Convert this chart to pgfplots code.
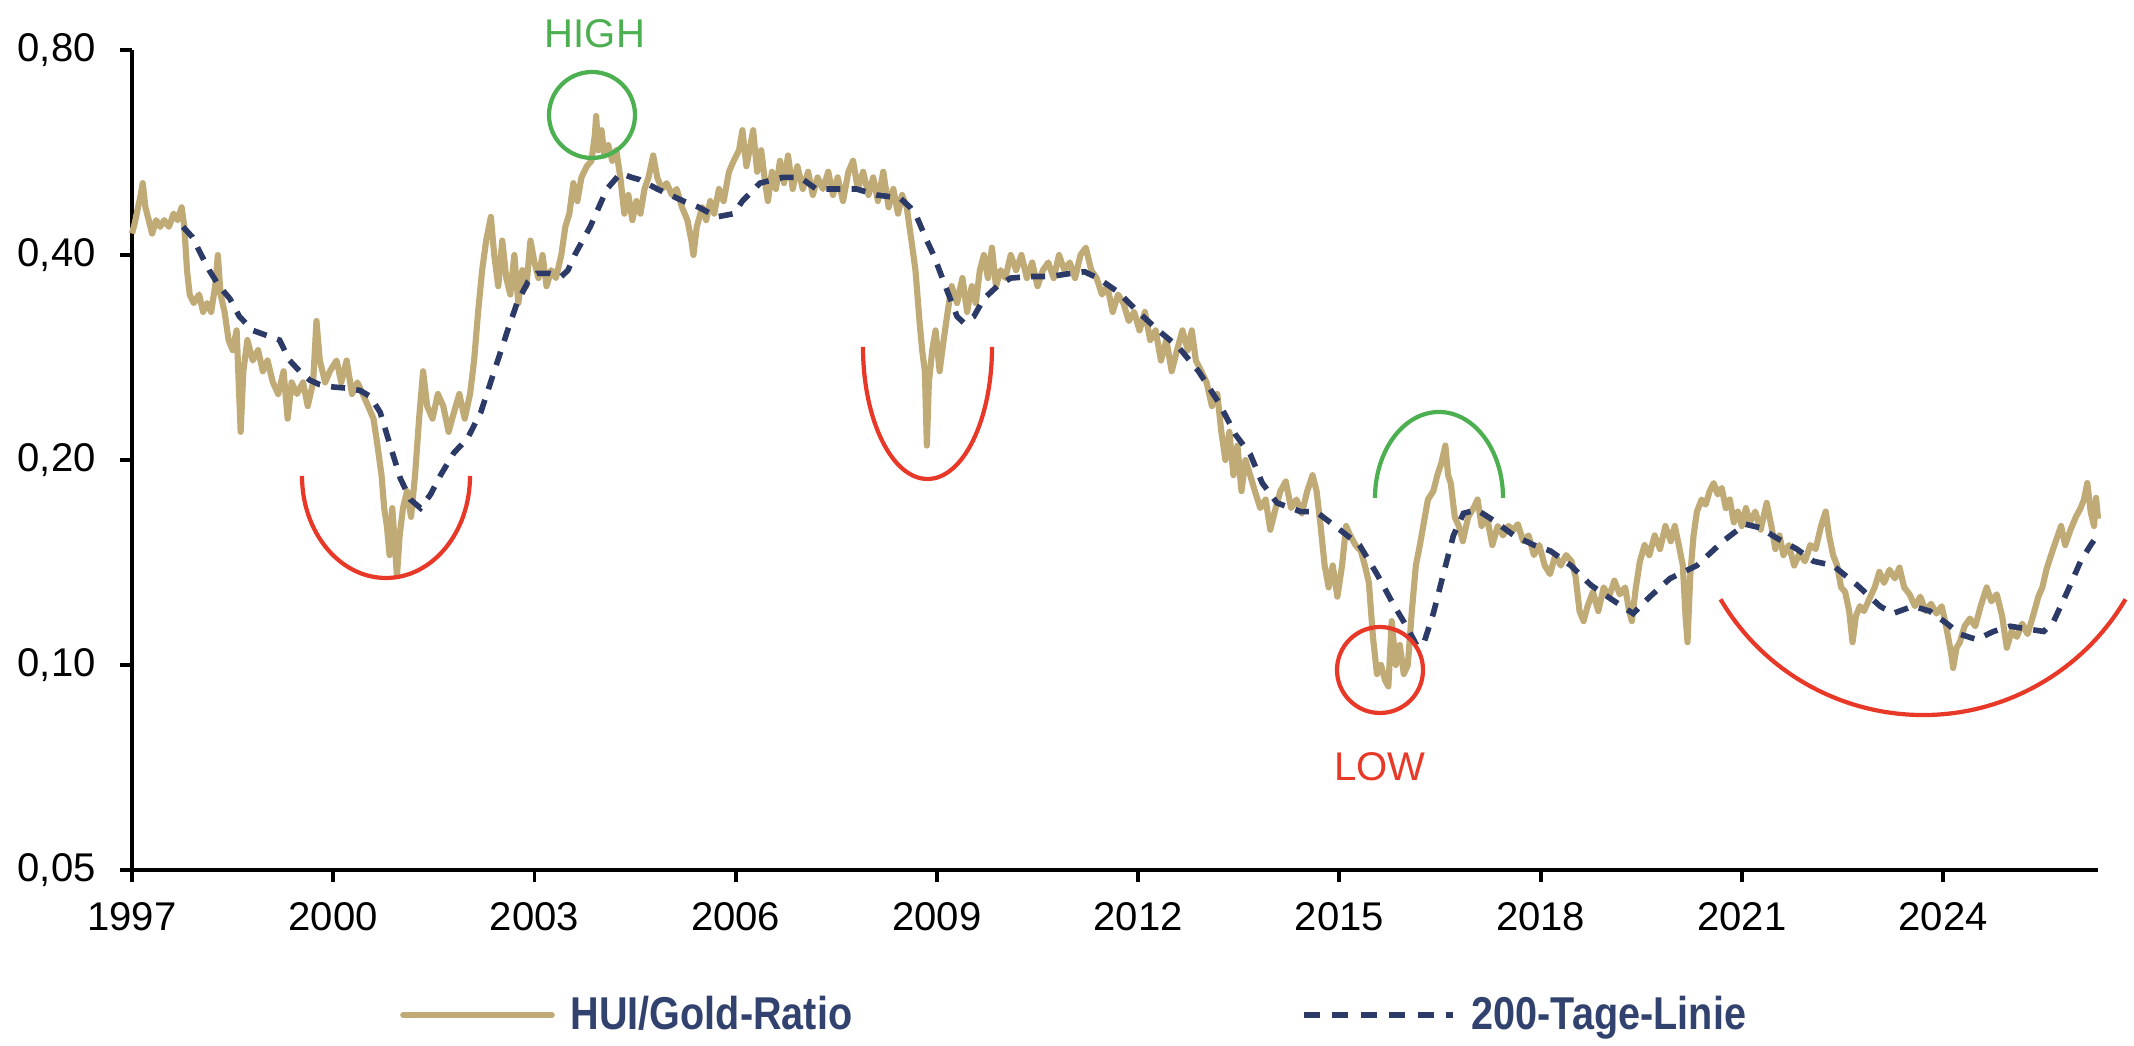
\documentclass[border=0pt]{standalone}
\usepackage{pgfplots}
\pgfplotsset{compat=1.18}
\usepackage{pgfplotstable}
\usepackage{graphicx}
\usepackage{fontspec}
\setmainfont{Liberation Sans}
\definecolor{goldline}{RGB}{192,170,118}
\definecolor{navyline}{RGB}{43,58,103}
\definecolor{legnavy}{RGB}{50,66,110}
\definecolor{annred}{RGB}{232,56,40}
\definecolor{anngreen}{RGB}{76,175,80}

\pgfplotstableread{
x y
1997.00 0.43
1997.04 0.445
1997.09 0.47
1997.13 0.49
1997.16 0.51
1997.20 0.47
1997.25 0.45
1997.30 0.43
1997.36 0.45
1997.42 0.44
1997.48 0.45
1997.55 0.44
1997.62 0.46
1997.68 0.45
1997.74 0.47
1997.78 0.44
1997.82 0.38
1997.86 0.35
1997.92 0.34
1998.00 0.35
1998.06 0.33
1998.12 0.34
1998.18 0.33
1998.24 0.36
1998.28 0.40
1998.32 0.35
1998.38 0.33
1998.44 0.30
1998.50 0.29
1998.56 0.31
1998.62 0.22
1998.66 0.27
1998.72 0.30
1998.80 0.28
1998.88 0.29
1998.95 0.27
1999.02 0.28
1999.10 0.26
1999.18 0.25
1999.26 0.27
1999.32 0.23
1999.38 0.26
1999.46 0.25
1999.55 0.26
1999.62 0.24
1999.70 0.26
1999.75 0.32
1999.80 0.28
1999.88 0.26
1999.95 0.27
2000.05 0.28
2000.12 0.26
2000.20 0.28
2000.28 0.25
2000.36 0.26
2000.44 0.25
2000.52 0.24
2000.60 0.23
2000.66 0.21
2000.72 0.19
2000.76 0.17
2000.80 0.16
2000.84 0.145
2000.88 0.17
2000.92 0.15
2000.95 0.135
2000.99 0.155
2001.04 0.17
2001.10 0.18
2001.16 0.165
2001.22 0.19
2001.28 0.23
2001.34 0.27
2001.40 0.24
2001.48 0.23
2001.56 0.25
2001.64 0.24
2001.72 0.22
2001.80 0.235
2001.88 0.25
2001.96 0.23
2002.04 0.25
2002.10 0.28
2002.16 0.33
2002.22 0.38
2002.28 0.42
2002.35 0.455
2002.40 0.40
2002.46 0.36
2002.52 0.42
2002.58 0.37
2002.64 0.35
2002.70 0.40
2002.76 0.34
2002.82 0.38
2002.88 0.36
2002.94 0.42
2003.00 0.39
2003.06 0.37
2003.12 0.40
2003.18 0.36
2003.25 0.38
2003.32 0.37
2003.40 0.40
2003.46 0.44
2003.52 0.46
2003.58 0.51
2003.64 0.48
2003.70 0.52
2003.78 0.54
2003.85 0.55
2003.90 0.60
2003.92 0.64
2003.95 0.57
2004.00 0.61
2004.04 0.56
2004.10 0.58
2004.16 0.55
2004.22 0.57
2004.28 0.52
2004.34 0.46
2004.40 0.49
2004.46 0.45
2004.52 0.48
2004.58 0.46
2004.64 0.50
2004.70 0.52
2004.77 0.56
2004.83 0.52
2004.90 0.50
2004.97 0.51
2005.05 0.49
2005.12 0.50
2005.20 0.47
2005.28 0.45
2005.34 0.42
2005.37 0.40
2005.42 0.44
2005.50 0.47
2005.56 0.45
2005.62 0.48
2005.68 0.46
2005.75 0.50
2005.82 0.48
2005.90 0.53
2005.97 0.55
2006.05 0.57
2006.10 0.61
2006.16 0.54
2006.22 0.58
2006.26 0.61
2006.32 0.53
2006.38 0.57
2006.44 0.51
2006.48 0.48
2006.54 0.53
2006.60 0.50
2006.66 0.55
2006.72 0.51
2006.78 0.56
2006.85 0.50
2006.92 0.54
2007.00 0.50
2007.08 0.53
2007.15 0.49
2007.22 0.52
2007.30 0.50
2007.38 0.53
2007.45 0.49
2007.52 0.52
2007.60 0.48
2007.68 0.53
2007.75 0.55
2007.82 0.50
2007.90 0.53
2007.98 0.49
2008.05 0.52
2008.12 0.48
2008.20 0.53
2008.28 0.47
2008.35 0.50
2008.42 0.46
2008.48 0.49
2008.55 0.47
2008.62 0.42
2008.68 0.38
2008.74 0.32
2008.78 0.29
2008.82 0.27
2008.85 0.21
2008.88 0.26
2008.93 0.29
2008.98 0.31
2009.04 0.27
2009.10 0.30
2009.16 0.33
2009.22 0.36
2009.30 0.34
2009.38 0.37
2009.45 0.33
2009.52 0.36
2009.58 0.34
2009.64 0.38
2009.70 0.40
2009.76 0.37
2009.82 0.41
2009.88 0.36
2009.95 0.38
2010.02 0.37
2010.10 0.40
2010.18 0.38
2010.26 0.40
2010.34 0.37
2010.42 0.39
2010.50 0.36
2010.58 0.38
2010.66 0.39
2010.74 0.37
2010.82 0.40
2010.90 0.38
2010.98 0.39
2011.06 0.37
2011.14 0.40
2011.22 0.41
2011.30 0.38
2011.38 0.37
2011.46 0.35
2011.54 0.36
2011.62 0.33
2011.70 0.35
2011.78 0.34
2011.86 0.32
2011.94 0.33
2012.02 0.31
2012.10 0.33
2012.18 0.30
2012.26 0.31
2012.34 0.28
2012.42 0.30
2012.50 0.27
2012.58 0.29
2012.66 0.31
2012.74 0.29
2012.80 0.31
2012.86 0.28
2012.94 0.27
2013.02 0.26
2013.10 0.24
2013.18 0.25
2013.24 0.22
2013.30 0.20
2013.36 0.22
2013.42 0.19
2013.48 0.21
2013.54 0.18
2013.60 0.20
2013.67 0.19
2013.74 0.18
2013.82 0.17
2013.90 0.175
2013.97 0.158
2014.05 0.17
2014.12 0.18
2014.20 0.186
2014.28 0.17
2014.36 0.175
2014.44 0.167
2014.52 0.18
2014.60 0.19
2014.66 0.18
2014.72 0.16
2014.78 0.14
2014.84 0.13
2014.90 0.14
2014.97 0.126
2015.04 0.14
2015.10 0.16
2015.16 0.155
2015.24 0.15
2015.32 0.147
2015.38 0.14
2015.44 0.132
2015.50 0.11
2015.56 0.097
2015.62 0.10
2015.68 0.095
2015.73 0.093
2015.78 0.116
2015.84 0.10
2015.90 0.107
2015.96 0.097
2016.02 0.10
2016.08 0.12
2016.14 0.14
2016.20 0.15
2016.25 0.16
2016.32 0.175
2016.40 0.18
2016.46 0.19
2016.52 0.198
2016.58 0.21
2016.62 0.19
2016.66 0.185
2016.72 0.165
2016.78 0.16
2016.84 0.152
2016.92 0.165
2017.00 0.17
2017.06 0.175
2017.12 0.16
2017.20 0.165
2017.28 0.15
2017.36 0.16
2017.44 0.155
2017.52 0.16
2017.60 0.158
2017.66 0.161
2017.74 0.152
2017.82 0.155
2017.90 0.145
2017.98 0.15
2018.06 0.14
2018.14 0.136
2018.22 0.145
2018.30 0.14
2018.38 0.145
2018.46 0.142
2018.52 0.135
2018.58 0.12
2018.64 0.116
2018.70 0.122
2018.78 0.128
2018.86 0.12
2018.94 0.13
2019.02 0.126
2019.10 0.133
2019.18 0.127
2019.26 0.13
2019.32 0.12
2019.36 0.116
2019.42 0.13
2019.48 0.142
2019.55 0.15
2019.62 0.145
2019.70 0.155
2019.78 0.148
2019.86 0.16
2019.94 0.152
2020.00 0.16
2020.06 0.15
2020.12 0.14
2020.16 0.118
2020.19 0.108
2020.23 0.135
2020.28 0.155
2020.33 0.168
2020.40 0.175
2020.46 0.172
2020.52 0.18
2020.58 0.185
2020.64 0.178
2020.70 0.182
2020.76 0.17
2020.82 0.175
2020.88 0.162
2020.94 0.168
2021.00 0.16
2021.06 0.17
2021.12 0.162
2021.20 0.168
2021.28 0.158
2021.37 0.173
2021.44 0.16
2021.50 0.148
2021.56 0.155
2021.62 0.145
2021.70 0.15
2021.78 0.14
2021.86 0.146
2021.94 0.142
2022.02 0.15
2022.10 0.148
2022.18 0.16
2022.25 0.168
2022.30 0.155
2022.36 0.145
2022.42 0.14
2022.48 0.13
2022.54 0.128
2022.60 0.12
2022.65 0.108
2022.70 0.118
2022.76 0.122
2022.82 0.12
2022.90 0.125
2022.98 0.13
2023.05 0.137
2023.12 0.132
2023.20 0.138
2023.28 0.134
2023.35 0.139
2023.42 0.13
2023.50 0.127
2023.58 0.122
2023.66 0.126
2023.74 0.12
2023.82 0.123
2023.90 0.119
2023.98 0.122
2024.06 0.112
2024.12 0.104
2024.15 0.099
2024.20 0.106
2024.25 0.108
2024.32 0.114
2024.40 0.117
2024.48 0.114
2024.56 0.122
2024.65 0.13
2024.72 0.124
2024.80 0.127
2024.88 0.118
2024.95 0.106
2025.02 0.112
2025.10 0.11
2025.18 0.115
2025.26 0.111
2025.34 0.118
2025.42 0.126
2025.48 0.13
2025.54 0.138
2025.60 0.144
2025.66 0.15
2025.72 0.156
2025.76 0.16
2025.82 0.15
2025.90 0.158
2025.98 0.165
2026.05 0.17
2026.10 0.175
2026.15 0.185
2026.20 0.168
2026.25 0.16
2026.28 0.176
2026.31 0.164
}\huigold

\pgfplotstableread{
x y
1997.76 0.44
1997.90 0.425
1998.00 0.406
1998.15 0.38
1998.30 0.36
1998.46 0.345
1998.60 0.325
1998.80 0.31
1999.00 0.305
1999.20 0.30
1999.35 0.28
1999.50 0.27
1999.65 0.262
1999.80 0.258
2000.00 0.256
2000.20 0.255
2000.40 0.253
2000.55 0.248
2000.70 0.235
2000.85 0.21
2001.00 0.188
2001.15 0.175
2001.30 0.17
2001.45 0.178
2001.60 0.19
2001.80 0.205
2002.00 0.215
2002.20 0.235
2002.40 0.27
2002.60 0.31
2002.74 0.34
2002.90 0.365
2003.04 0.376
2003.23 0.376
2003.40 0.372
2003.50 0.38
2003.60 0.40
2003.83 0.44
2004.08 0.50
2004.28 0.527
2004.45 0.52
2004.57 0.516
2004.83 0.50
2005.22 0.48
2005.45 0.47
2005.72 0.455
2005.97 0.46
2006.10 0.48
2006.36 0.51
2006.70 0.52
2006.96 0.52
2007.20 0.50
2007.45 0.50
2007.80 0.50
2008.10 0.49
2008.45 0.485
2008.60 0.47
2008.70 0.455
2008.85 0.42
2008.95 0.40
2009.15 0.355
2009.30 0.325
2009.40 0.318
2009.55 0.325
2009.70 0.345
2009.90 0.36
2010.10 0.37
2010.40 0.372
2010.70 0.372
2011.00 0.376
2011.20 0.378
2011.40 0.37
2011.70 0.353
2012.00 0.33
2012.30 0.31
2012.60 0.293
2012.90 0.27
2013.20 0.243
2013.45 0.218
2013.67 0.204
2013.85 0.185
2014.07 0.173
2014.42 0.168
2014.65 0.168
2014.97 0.159
2015.30 0.15
2015.56 0.136
2015.80 0.123
2016.00 0.114
2016.15 0.107
2016.25 0.107
2016.40 0.119
2016.55 0.136
2016.70 0.155
2016.85 0.167
2017.05 0.169
2017.30 0.163
2017.60 0.155
2017.90 0.15
2018.15 0.147
2018.45 0.14
2018.75 0.131
2019.05 0.125
2019.38 0.119
2019.63 0.126
2019.93 0.134
2020.33 0.140
2020.72 0.152
2021.05 0.161
2021.28 0.159
2021.50 0.154
2021.82 0.148
2022.07 0.142
2022.36 0.14
2022.72 0.131
2023.06 0.122
2023.25 0.119
2023.55 0.122
2023.80 0.120
2024.06 0.115
2024.25 0.111
2024.50 0.109
2024.75 0.112
2025.00 0.114
2025.25 0.113
2025.50 0.112
2025.65 0.116
2025.85 0.128
2026.05 0.142
2026.20 0.150
2026.30 0.155
}\twohundred

\begin{document}
\begin{tikzpicture}
\begin{axis}[
  scale only axis,
  width=19.66cm, height=8.2cm,
  xmin=1997, xmax=2026.31,
  ymode=log, ymin=0.05, ymax=0.80,
  axis lines*=left,
  axis line style={line width=1.1pt, black},
  tick style={line width=1.1pt, black},
  tick align=outside,
  major tick length=0.12cm,
  xtick={1997,2000,2003,2006,2009,2012,2015,2018,2021,2024},
  xticklabels={1997,2000,2003,2006,2009,2012,2015,2018,2021,2024},
  ytick={0.05,0.1,0.2,0.4,0.8},
  yticklabels={{0,05},{0,10},{0,20},{0,40},{0,80}},
  yminorticks=false, xminorticks=false,
  ticklabel style={font=\fontsize{11.4}{13}\selectfont},
  yticklabel style={xshift=-0.12cm},
  xticklabel style={yshift=-0.08cm},
  clip=false,
]
\addplot[goldline, line width=1.75pt, line join=round] table[x=x,y=y]{\huigold};
\addplot[navyline, line width=1.6pt, dash pattern=on 4pt off 3.2pt] table[x=x,y=y]{\twohundred};
\end{axis}
% annotations
\node[text=anngreen, font=\fontsize{11.4}{13}\selectfont] at (4.63,8.36) {HIGH};
\draw[anngreen, line width=1.2pt] (4.60,7.55) circle (0.43);
\draw[annred, line width=1.2pt] (1.70,3.94) arc[start angle=180, end angle=360, x radius=0.84, y radius=1.02];
\draw[annred, line width=1.2pt] (7.31,5.23) arc[start angle=180, end angle=360, x radius=0.645, y radius=1.32];
\draw[anngreen, line width=1.2pt] (12.43,3.72) arc[start angle=180, end angle=0, x radius=0.64, y radius=0.86];
\draw[annred, line width=1.2pt] (12.48,2.00) circle (0.43);
\node[text=annred, font=\fontsize{11.4}{13}\selectfont] at (12.48,1.03) {LOW};
\draw[annred, line width=1.2pt] (15.885,2.707) arc[start angle=210.5, end angle=329.5, radius=2.35];
% legend
\draw[goldline, line width=1.6pt, line cap=round] (2.71,-1.45) -- (4.20,-1.45);
\node[anchor=base west, inner sep=0pt, text=legnavy, font=\bfseries\fontsize{13.1}{15}\selectfont] at (4.38,-1.60) {\scalebox{0.86}[1]{HUI/Gold-Ratio}};
\draw[navyline, line width=1.6pt, dash pattern=on 4.5pt off 3.6pt] (11.72,-1.45) -- (13.21,-1.45);
\node[anchor=base west, inner sep=0pt, text=legnavy, font=\bfseries\fontsize{13.1}{15}\selectfont] at (13.39,-1.60) {\scalebox{0.86}[1]{200-Tage-Linie}};
\pgfresetboundingbox
\path (-1.32,-1.76) rectangle (20.02,8.70);
\end{tikzpicture}
\end{document}
